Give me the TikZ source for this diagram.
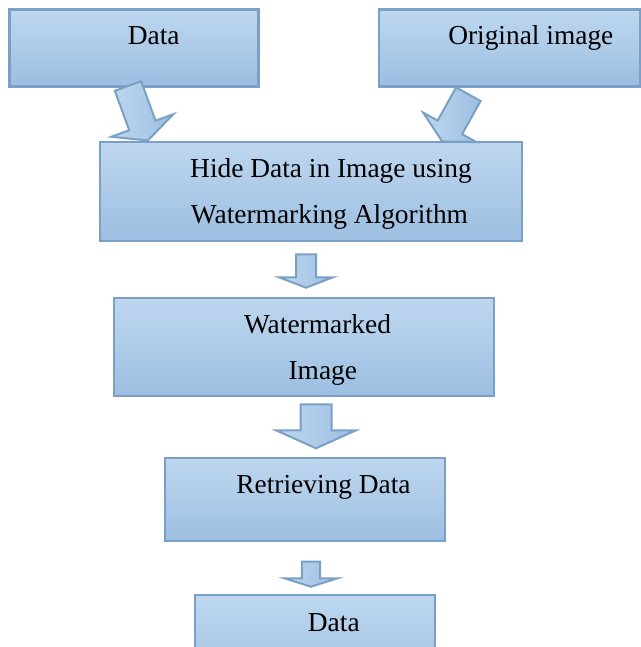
\documentclass[tikz,border=0pt]{standalone}
\usepackage{fontspec}
\setmainfont{Liberation Serif}
\definecolor{boxline}{RGB}{122,160,200}
\definecolor{boxtop}{RGB}{190,215,239}
\definecolor{boxbot}{RGB}{157,190,225}

% block arrow: length, half shaft, half head, head length
\tikzset{
  pics/blockarrow/.style n args={4}{code={
    \draw[arrowbody] (0,-#2) -- ({#1-#4},-#2) -- ({#1-#4},-#3) -- (#1,0)
      -- ({#1-#4},#3) -- ({#1-#4},#2) -- (0,#2) -- cycle;
  }}
}

\begin{document}
\begin{tikzpicture}[x=0.5pt, y=0.5pt,
  box/.style={draw=boxline, line width=1.3pt, top color=boxtop, bottom color=boxbot, inner sep=0},
  txt/.style={font=\fontsize{13.7}{16}\selectfont, anchor=base, inner sep=0},
  arrowbody/.style={draw=boxline, line width=1pt, left color=boxtop, right color=boxbot, line join=miter}]
\useasboundingbox (0,0) rectangle (641,-647);
\clip (0,0) rectangle (641,-647);
\fill[white] (0,0) rectangle (641,-647);

% boxes
\node[box, minimum width=124.5pt, minimum height=38.5pt] (data) at (134,-48) {};
\node[box, minimum width=130.5pt, minimum height=38.5pt] (orig) at (509.5,-48) {};
\node[box, minimum width=211pt, minimum height=49.5pt] (hide) at (311,-191.5) {};
\node[box, minimum width=190pt, minimum height=49pt] (wmimg) at (304,-347) {};
\node[box, minimum width=140pt, minimum height=41.5pt] (retr) at (305,-499.5) {};
\node[box, minimum width=120pt, minimum height=47.5pt] (out) at (315,-642.5) {};

% texts
\node[txt] (tData) at (153.7,-45) {Data};
\node[txt] (tOrig) at (530.8,-44.5) {Original image};
\node[txt] (tHide) at (331,-177) {Hide Data in Image using};
\node[txt] (tAlgo) at (329.5,-223) {Watermarking Algorithm};
\node[txt] (tWm) at (317.5,-333.3) {Watermarked};
\node[txt] (tImg) at (322.8,-379.3) {Image};
\node[txt] (tRetr) at (323.5,-493.3) {Retrieving Data};
\node[txt] (tOut) at (333.8,-631) {Data};

% arrows
\pic[rotate=-70] at (128,-86) {blockarrow={58}{14}{33}{16}};
\pic[rotate=-119] at (468.3,-94.2) {blockarrow={54}{14}{30.5}{16}};
\pic[rotate=-90] at (306,-254.3) {blockarrow={33.4}{10}{27}{10.4}};
\pic[rotate=-90] at (316,-404.3) {blockarrow={44}{15.5}{40}{18}};
\pic[rotate=-90] at (311,-561.7) {blockarrow={25}{9.2}{26.5}{8.4}};
\end{tikzpicture}
\end{document}
